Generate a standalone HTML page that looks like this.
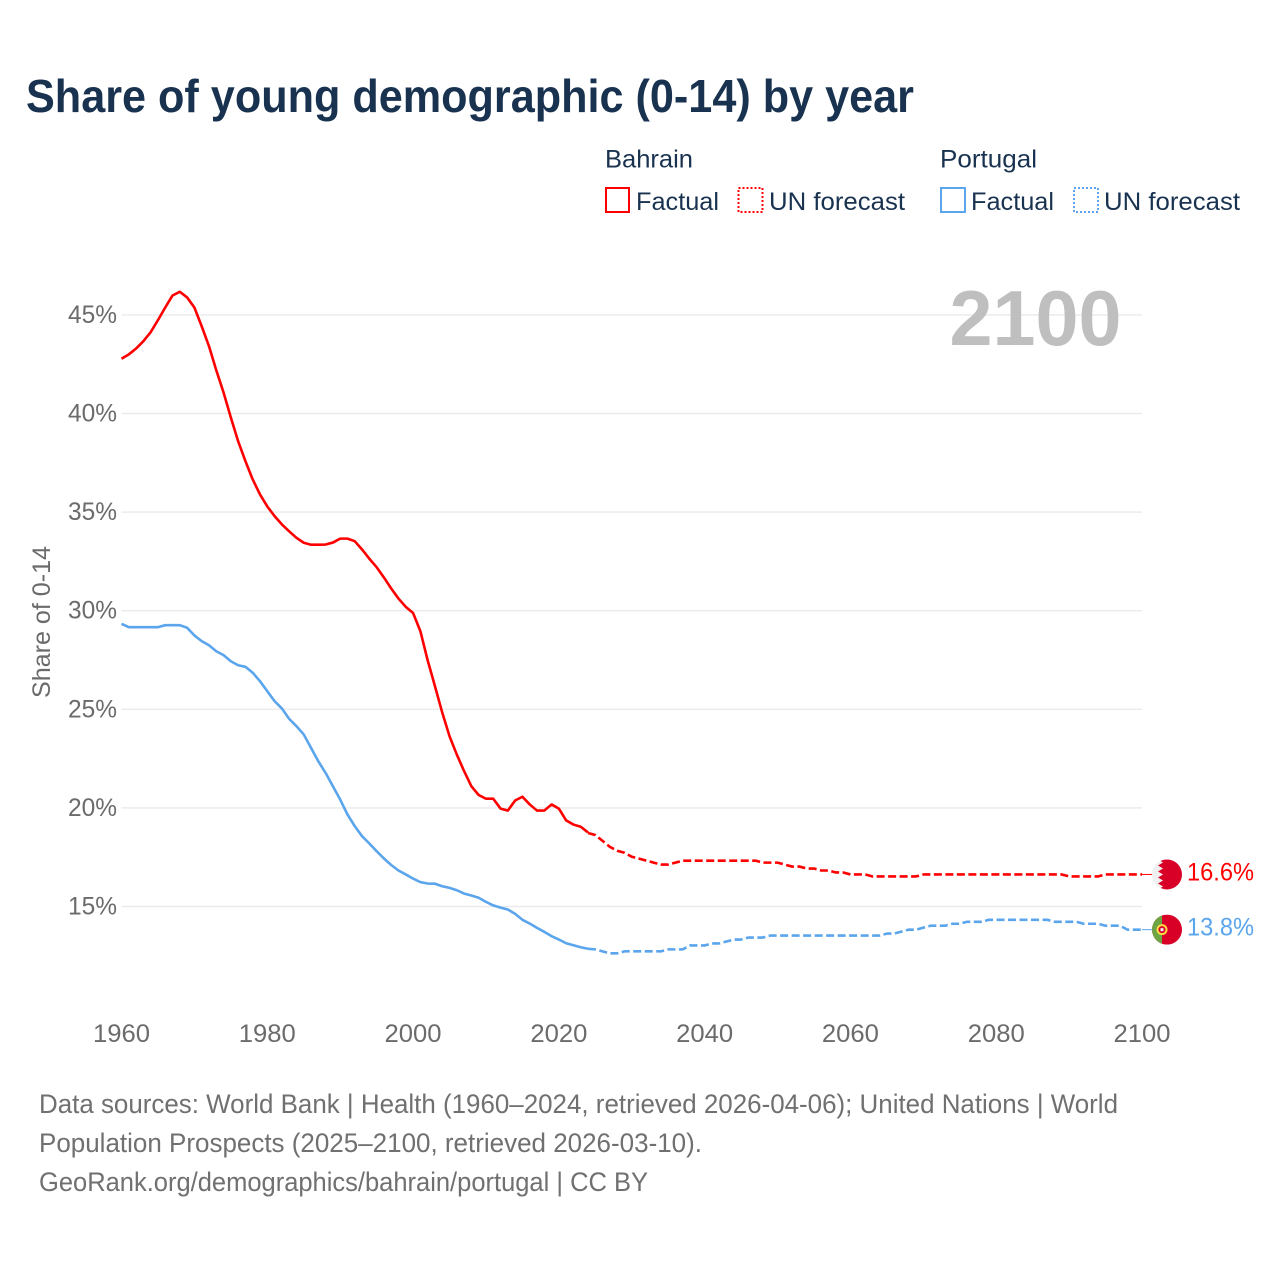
<!DOCTYPE html>
<html lang="en">
<head>
<meta charset="utf-8">
<title>Share of young demographic (0-14) by year</title>
<style>
html,body{margin:0;padding:0;background:#fff;}
svg{display:block;font-family:"Liberation Sans",sans-serif;}
</style>
</head>
<body>
<svg id="chart" width="1280" height="1280" viewBox="0 0 1280 1280" xmlns="http://www.w3.org/2000/svg">
  <rect x="0" y="0" width="1280" height="1280" fill="#ffffff"/>
  <text x="26" y="112" font-size="46" font-weight="700" fill="#18324f" textLength="888" lengthAdjust="spacingAndGlyphs">Share of young demographic (0-14) by year</text>

  <g font-size="25" fill="#18324f">
    <text x="605" y="167.5" textLength="88" lengthAdjust="spacingAndGlyphs">Bahrain</text>
    <rect x="606" y="188" width="23" height="24" fill="none" stroke="#ff0000" stroke-width="2"/>
    <text x="636" y="210" textLength="83" lengthAdjust="spacingAndGlyphs">Factual</text>
    <rect x="738.5" y="188" width="24" height="24" fill="none" stroke="#ff0000" stroke-width="2" stroke-dasharray="2 2"/>
    <text x="769" y="210" textLength="136" lengthAdjust="spacingAndGlyphs">UN forecast</text>
    <text x="940" y="167.5" textLength="97" lengthAdjust="spacingAndGlyphs">Portugal</text>
    <rect x="941" y="188" width="24" height="24" fill="none" stroke="#5ba5ec" stroke-width="2"/>
    <text x="971" y="210" textLength="83" lengthAdjust="spacingAndGlyphs">Factual</text>
    <rect x="1074" y="188" width="24" height="24" fill="none" stroke="#5ba5ec" stroke-width="2" stroke-dasharray="2 2"/>
    <text x="1104" y="210" textLength="136" lengthAdjust="spacingAndGlyphs">UN forecast</text>
  </g>

  <g id="grid-layer"></g>
  <text x="1121.5" y="345" font-size="78" font-weight="700" fill="#bfbfbf" text-anchor="end" textLength="172" lengthAdjust="spacingAndGlyphs">2100</text>
  <g id="y-tick-layer"></g>
  <g id="x-tick-layer"></g>
  <text transform="translate(50,622) rotate(-90)" font-size="25" fill="#6b6b6b" text-anchor="middle" textLength="152" lengthAdjust="spacingAndGlyphs">Share of 0-14</text>
  <g id="series-layer"></g>

  <g id="bahrain-flag">
    <clipPath id="bahrain-clip"><circle cx="0" cy="0" r="15"/></clipPath>
    <g clip-path="url(#bahrain-clip)">
      <rect x="-15" y="-15" width="30" height="30" fill="#f0f0f0"/>
      <polygon fill="#d80027" points="-9,-15 15,-15 15,15 -9,15 -4,12 -9,9 -4,6 -9,3 -4,0 -9,-3 -4,-6 -9,-9 -4,-12"/>
    </g>
  </g>
  <g id="portugal-flag">
    <clipPath id="portugal-clip"><circle cx="0" cy="0" r="15"/></clipPath>
    <g clip-path="url(#portugal-clip)">
      <rect x="-15" y="-15" width="30" height="30" fill="#d80027"/>
      <rect x="-15" y="-15" width="10" height="30" fill="#6da544"/>
      <circle cx="-5" cy="0" r="4.5" fill="#d80027" stroke="#ffda44" stroke-width="2"/>
      <rect x="-6.5" y="-1.5" width="3" height="3" fill="#f0f0f0"/>
    </g>
  </g>
  <text id="bahrain-end-label" x="1187" font-size="25" fill="#ff0000" textLength="67" lengthAdjust="spacingAndGlyphs"></text>
  <text id="portugal-end-label" x="1187" font-size="25" fill="#5ba5ec" textLength="67" lengthAdjust="spacingAndGlyphs"></text>

  <g font-size="26.5" fill="#707070">
    <text x="39" y="1113" textLength="1079" lengthAdjust="spacingAndGlyphs">Data sources: World Bank | Health (1960–2024, retrieved 2026-04-06); United Nations | World</text>
    <text x="39" y="1152" textLength="663" lengthAdjust="spacingAndGlyphs">Population Prospects (2025–2100, retrieved 2026-03-10).</text>
    <text x="39" y="1191" textLength="609" lengthAdjust="spacingAndGlyphs">GeoRank.org/demographics/bahrain/portugal | CC BY</text>
  </g>
</svg>
<script>
const xTickYears = [1960, 1980, 2000, 2020, 2040, 2060, 2080, 2100];
const yTickValues = [15, 20, 25, 30, 35, 40, 45];
const factualStartYear = 1960;
const forecastStartYear = 2024;
const bahrainFactual = [
  42.75,42.97,43.27,43.64,44.10,44.71,45.35,45.96,46.15,45.86,
  45.35,44.40,43.39,42.17,41.04,39.77,38.57,37.56,36.63,35.87,
  35.26,34.77,34.35,34.00,33.67,33.42,33.32,33.32,33.33,33.43,
  33.63,33.63,33.50,33.08,32.61,32.18,31.66,31.10,30.59,30.17,
  29.86,28.94,27.46,26.15,24.81,23.61,22.68,21.84,21.07,20.63,
  20.44,20.44,19.94,19.84,20.35,20.54,20.15,19.84,19.84,20.15,
  19.94,19.34,19.13,19.02,18.73
];
const portugalFactual = [
  29.31,29.14,29.14,29.14,29.14,29.14,29.24,29.24,29.24,29.11,
  28.72,28.43,28.22,27.92,27.72,27.41,27.21,27.13,26.83,26.40,
  25.89,25.39,25.02,24.49,24.12,23.70,23.02,22.34,21.75,21.07,
  20.40,19.64,19.05,18.54,18.17,17.78,17.41,17.08,16.80,16.60,
  16.39,16.21,16.14,16.13,16.00,15.92,15.80,15.63,15.53,15.42,
  15.21,15.03,14.92,14.82,14.60,14.30,14.11,13.89,13.69,13.47,
  13.30,13.11,13.01,12.91,12.83
];
const bahrainForecast = [
  18.7,18.6,18.3,18.0,17.8,17.7,
  17.5,17.4,17.3,17.2,17.1,17.1,17.2,17.3,17.3,17.3,
  17.3,17.3,17.3,17.3,17.3,17.3,17.3,17.3,17.2,17.2,
  17.2,17.1,17.0,17.0,16.9,16.9,16.8,16.8,16.7,16.7,
  16.6,16.6,16.6,16.5,16.5,16.5,16.5,16.5,16.5,16.5,
  16.6,16.6,16.6,16.6,16.6,16.6,16.6,16.6,16.6,16.6,
  16.6,16.6,16.6,16.6,16.6,16.6,16.6,16.6,16.6,16.6,
  16.5,16.5,16.5,16.5,16.5,16.6,16.6,16.6,16.6,16.6,
  16.6
];
const portugalForecast = [
  12.83,12.8,12.7,12.6,12.6,12.7,
  12.7,12.7,12.7,12.7,12.7,12.8,12.8,12.8,13.0,13.0,
  13.0,13.1,13.1,13.2,13.3,13.3,13.4,13.4,13.4,13.5,
  13.5,13.5,13.5,13.5,13.5,13.5,13.5,13.5,13.5,13.5,
  13.5,13.5,13.5,13.5,13.5,13.6,13.6,13.7,13.8,13.8,
  13.9,14.0,14.0,14.0,14.1,14.1,14.2,14.2,14.2,14.3,
  14.3,14.3,14.3,14.3,14.3,14.3,14.3,14.3,14.2,14.2,
  14.2,14.2,14.1,14.1,14.1,14.0,14.0,14.0,13.8,13.8,
  13.8
];

const SVG_NS = 'http://www.w3.org/2000/svg';
const RED = '#ff0000';
const BLUE = '#5ba5ec';
const GRAY = '#6b6b6b';
const plot = { left: 121.5, right: 1142, y15: 906.5, pxPerPercent: 19.72, firstYear: 1960, lastYear: 2100 };
const lineOffset = -0.5;

function xScale(year) {
  return plot.left + (year - plot.firstYear) * (plot.right - plot.left) / (plot.lastYear - plot.firstYear);
}
function yScale(value) {
  return plot.y15 - (value - 15) * plot.pxPerPercent;
}
function make(tag, attrs, parent) {
  const node = document.createElementNS(SVG_NS, tag);
  Object.keys(attrs).forEach(function (k) { node.setAttribute(k, attrs[k]); });
  parent.appendChild(node);
  return node;
}
function pathFrom(values, startYear) {
  return values.map(function (v, i) {
    return (i ? 'L' : 'M') + xScale(startYear + i).toFixed(2) + ' ' + (yScale(v) + lineOffset).toFixed(2);
  }).join(' ');
}

const gridLayer = document.getElementById('grid-layer');
const yTickLayer = document.getElementById('y-tick-layer');
const xTickLayer = document.getElementById('x-tick-layer');
const seriesLayer = document.getElementById('series-layer');

yTickValues.forEach(function (v) {
  const line = make('line', { x1: plot.left, x2: plot.right, y1: yScale(v), y2: yScale(v), stroke: '#eaeaea', 'stroke-width': 1.4 }, gridLayer);
  
  
  const label = make('text', { x: 117, y: yScale(v) + 8, 'font-size': 25, fill: GRAY, 'text-anchor': 'end', textLength: 49, lengthAdjust: 'spacingAndGlyphs' }, yTickLayer);
  
  
  label.textContent = v + '%';
});

xTickYears.forEach(function (year) {
  const label = make('text', { x: xScale(year), y: 1042, 'font-size': 25, fill: GRAY, 'text-anchor': 'middle', textLength: 57, lengthAdjust: 'spacingAndGlyphs' }, xTickLayer);
  
  
  label.textContent = year;
});

function drawSeries(name, color, factual, forecast) {
  const solid = make('path', { d: pathFrom(factual, factualStartYear), fill: 'none', stroke: color, 'stroke-width': 2.6, 'stroke-linejoin': 'round' }, seriesLayer);
  
  
  const dashed = make('path', { d: pathFrom(forecast, forecastStartYear), fill: 'none', stroke: color, 'stroke-width': 2.6, 'stroke-linejoin': 'round', 'stroke-dasharray': '8 3.5' }, seriesLayer);
  
  
  const last = forecast[forecast.length - 1];
  const endY = yScale(last) + lineOffset;
  const connector = make('line', { x1: plot.right, x2: 1152, y1: endY, y2: endY, stroke: color, 'stroke-width': 1 }, seriesLayer);
  
  
  document.getElementById(name + '-flag').setAttribute('transform', 'translate(1167,' + endY.toFixed(2) + ')');
  const endLabel = document.getElementById(name + '-end-label');
  endLabel.setAttribute('y', (endY + 6).toFixed(2));
  endLabel.textContent = last.toFixed(1) + '%';
}
drawSeries('bahrain', RED, bahrainFactual, bahrainForecast);
drawSeries('portugal', BLUE, portugalFactual, portugalForecast);
</script>
</body>
</html>
